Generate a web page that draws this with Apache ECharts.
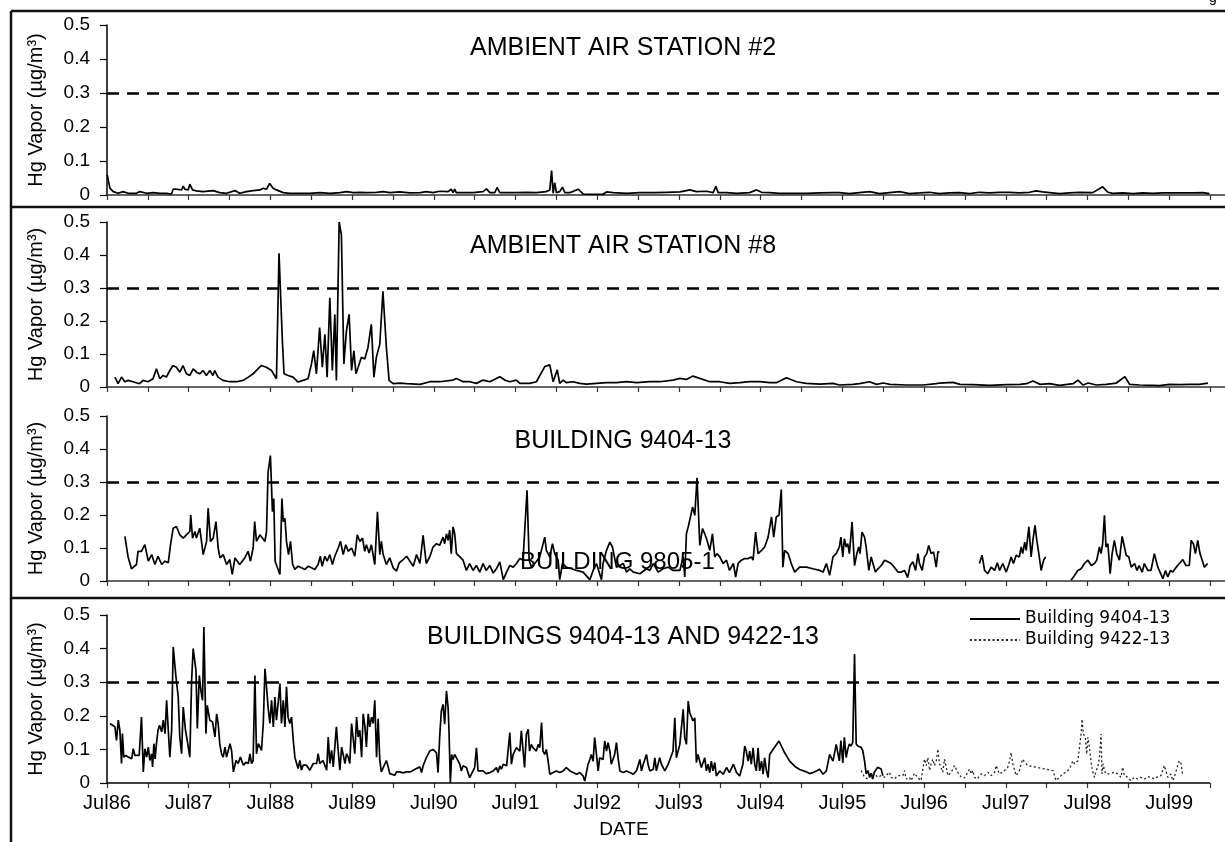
<!DOCTYPE html>
<html>
<head>
<meta charset="utf-8">
<title>Hg Vapor</title>
<script src="https://cdn.jsdelivr.net/npm/echarts@6/dist/echarts.min.js"></script>
<style>
  html, body { margin: 0; padding: 0; background: #fff; }
  #chart { width: 1225px; height: 842px; }
</style>
</head>
<body>
<div id="chart"></div>
<script>
// ---- Data: [sample date, Hg vapor in µg/m³] ----
const station2 = [
  ['1986-07-02',0.059],['1986-07-14',0.02],['1986-07-29',0.01],['1986-08-20',0.005],['1986-09-12',0.01],['1986-10-04',0.005],
  ['1986-11-11',0.005],['1986-11-26',0.01],['1986-12-26',0.005],['1987-01-25',0.007],['1987-02-24',0.005],['1987-03-24',0.005],
  ['1987-04-15',0.003],['1987-04-23',0.017],['1987-05-07',0.017],['1987-05-30',0.015],['1987-06-07',0.026],['1987-06-14',0.017],
  ['1987-06-29',0.015],['1987-07-06',0.032],['1987-07-18',0.015],['1987-08-05',0.012],['1987-09-04',0.01],['1987-10-19',0.013],
  ['1987-11-18',0.007],['1987-12-18',0.005],['1988-01-25',0.013],['1988-02-16',0.005],['1988-03-16',0.01],['1988-04-15',0.013],
  ['1988-05-15',0.015],['1988-05-29',0.02],['1988-06-14',0.017],['1988-06-28',0.034],['1988-07-13',0.02],['1988-07-28',0.015],
  ['1988-08-28',0.007],['1988-09-27',0.005],['1988-11-11',0.005],['1988-12-25',0.005],['1989-02-09',0.007],['1989-03-23',0.005],
  ['1989-05-07',0.007],['1989-06-07',0.01],['1989-07-06',0.007],['1989-08-05',0.008],['1989-09-04',0.007],['1989-10-19',0.008],
  ['1989-11-18',0.01],['1989-12-17',0.007],['1990-02-01',0.009],['1990-03-16',0.006],['1990-05-01',0.007],['1990-05-28',0.01],
  ['1990-06-28',0.007],['1990-07-27',0.011],['1990-09-04',0.01],['1990-09-18',0.017],['1990-09-26',0.007],['1990-10-03',0.017],
  ['1990-10-10',0.007],['1990-11-10',0.007],['1990-12-24',0.007],['1991-02-08',0.01],['1991-02-23',0.018],['1991-03-08',0.007],
  ['1991-03-30',0.007],['1991-04-10',0.022],['1991-04-22',0.007],['1991-05-22',0.007],['1991-07-05',0.007],['1991-08-19',0.008],
  ['1991-10-03',0.007],['1991-11-17',0.01],['1991-12-02',0.015],['1991-12-10',0.072],['1991-12-17',0.005],['1991-12-24',0.036],
  ['1992-01-01',0.007],['1992-01-16',0.01],['1992-01-28',0.023],['1992-02-08',0.007],['1992-03-01',0.007],['1992-04-07',0.017],
  ['1992-04-29',0.003],['1992-06-13',0.002],['1992-07-27',0.002],['1992-08-12',0.009],['1992-09-11',0.007],['1992-11-10',0.005],
  ['1993-01-09',0.007],['1993-03-08',0.007],['1993-05-06',0.008],['1993-07-05',0.009],['1993-08-04',0.013],['1993-08-19',0.015],
  ['1993-09-18',0.01],['1993-11-02',0.011],['1993-12-02',0.007],['1993-12-14',0.026],['1993-12-24',0.007],['1994-02-01',0.007],
  ['1994-03-15',0.005],['1994-05-13',0.007],['1994-06-13',0.015],['1994-07-05',0.008],['1994-08-11',0.007],['1994-09-25',0.005],
  ['1994-11-24',0.005],['1995-01-23',0.005],['1995-03-22',0.006],['1995-05-20',0.007],['1995-06-18',0.007],['1995-08-02',0.004],
  ['1995-09-16',0.007],['1995-11-01',0.01],['1995-12-15',0.004],['1996-01-29',0.007],['1996-03-13',0.01],['1996-04-27',0.004],
  ['1996-06-11',0.006],['1996-07-25',0.008],['1996-09-09',0.004],['1996-10-23',0.006],['1996-12-07',0.007],['1997-01-22',0.004],
  ['1997-03-05',0.008],['1997-04-19',0.006],['1997-06-04',0.008],['1997-07-18',0.008],['1997-09-01',0.006],['1997-10-16',0.008],
  ['1997-11-15',0.012],['1997-12-14',0.009],['1998-01-14',0.007],['1998-02-28',0.004],['1998-04-12',0.006],['1998-05-26',0.008],
  ['1998-07-25',0.007],['1998-09-08',0.024],['1998-10-01',0.008],['1998-10-23',0.005],['1998-12-07',0.006],['1999-01-21',0.004],
  ['1999-03-05',0.006],['1999-04-19',0.005],['1999-06-03',0.006],['1999-07-17',0.006],['1999-09-01',0.006],['1999-10-16',0.006],
  ['1999-11-29',0.007],['1999-12-29',0.004]
];

const station8 = [
  ['1986-08-06',0.03],['1986-08-20',0.01],['1986-09-05',0.03],['1986-09-20',0.016],['1986-10-04',0.02],['1986-10-26',0.016],
  ['1986-11-25',0.01],['1986-12-10',0.02],['1987-01-02',0.016],['1987-01-24',0.025],['1987-02-09',0.055],['1987-02-24',0.025],
  ['1987-03-08',0.035],['1987-03-23',0.03],['1987-04-08',0.05],['1987-04-22',0.065],['1987-05-07',0.06],['1987-05-22',0.045],
  ['1987-06-06',0.065],['1987-06-21',0.04],['1987-07-06',0.035],['1987-07-21',0.055],['1987-08-05',0.045],['1987-08-20',0.04],
  ['1987-09-04',0.05],['1987-09-19',0.035],['1987-10-04',0.05],['1987-10-18',0.035],['1987-10-26',0.05],['1987-11-10',0.03],
  ['1987-12-02',0.02],['1988-01-02',0.016],['1988-02-01',0.016],['1988-03-01',0.02],['1988-03-24',0.03],['1988-04-15',0.04],
  ['1988-05-06',0.055],['1988-05-21',0.065],['1988-06-13',0.06],['1988-07-06',0.05],['1988-07-28',0.025],['1988-08-09',0.405],
  ['1988-08-24',0.14],['1988-09-01',0.04],['1988-09-19',0.035],['1988-10-11',0.03],['1988-11-03',0.015],['1988-11-25',0.02],
  ['1988-12-17',0.025],['1989-01-02',0.07],['1989-01-12',0.11],['1989-01-24',0.04],['1989-02-08',0.18],['1989-02-20',0.06],
  ['1989-03-01',0.16],['1989-03-11',0.03],['1989-03-23',0.27],['1989-04-04',0.05],['1989-04-15',0.22],['1989-04-22',0.02],
  ['1989-05-04',0.50],['1989-05-14',0.46],['1989-05-25',0.07],['1989-06-06',0.17],['1989-06-18',0.22],['1989-06-29',0.05],
  ['1989-07-09',0.11],['1989-07-18',0.04],['1989-07-28',0.06],['1989-08-12',0.09],['1989-08-27',0.085],['1989-09-11',0.12],
  ['1989-09-26',0.19],['1989-10-07',0.03],['1989-10-18',0.09],['1989-11-03',0.13],['1989-11-17',0.29],['1989-12-02',0.12],
  ['1989-12-14',0.02],['1990-01-02',0.01],['1990-02-01',0.012],['1990-03-01',0.01],['1990-05-01',0.008],['1990-06-13',0.016],
  ['1990-07-27',0.016],['1990-09-26',0.021],['1990-10-11',0.026],['1990-11-10',0.016],['1990-12-09',0.016],['1991-01-09',0.011],
  ['1991-02-08',0.021],['1991-03-08',0.016],['1991-04-22',0.031],['1991-05-14',0.021],['1991-06-06',0.016],['1991-07-05',0.021],
  ['1991-07-20',0.011],['1991-09-04',0.011],['1991-10-03',0.016],['1991-11-10',0.062],['1991-12-02',0.067],['1991-12-17',0.016],
  ['1992-01-05',0.052],['1992-01-16',0.011],['1992-02-01',0.021],['1992-02-15',0.013],['1992-03-15',0.016],['1992-04-14',0.011],
  ['1992-05-14',0.009],['1992-06-28',0.011],['1992-08-12',0.013],['1992-09-26',0.013],['1992-11-10',0.016],['1992-12-25',0.013],
  ['1993-02-23',0.016],['1993-04-07',0.016],['1993-06-05',0.021],['1993-07-05',0.026],['1993-08-04',0.023],['1993-09-03',0.033],
  ['1993-10-03',0.026],['1993-11-17',0.016],['1994-01-01',0.016],['1994-02-15',0.011],['1994-03-30',0.013],['1994-05-13',0.016],
  ['1994-06-27',0.016],['1994-08-11',0.013],['1994-09-10',0.013],['1994-10-25',0.028],['1994-12-09',0.016],['1995-01-22',0.011],
  ['1995-03-22',0.009],['1995-05-20',0.011],['1995-06-18',0.006],['1995-08-18',0.008],['1995-09-17',0.01],['1995-11-01',0.016],
  ['1995-12-01',0.008],['1996-01-01',0.012],['1996-02-01',0.008],['1996-04-13',0.006],['1996-06-27',0.006],['1996-08-25',0.01],
  ['1996-09-10',0.012],['1996-11-09',0.014],['1996-12-09',0.008],['1997-02-07',0.007],['1997-04-21',0.005],['1997-07-04',0.007],
  ['1997-09-04',0.008],['1997-10-02',0.01],['1997-11-01',0.018],['1997-12-01',0.008],['1998-01-15',0.01],['1998-02-28',0.005],
  ['1998-04-28',0.01],['1998-05-19',0.021],['1998-06-12',0.006],['1998-07-04',0.012],['1998-08-10',0.006],['1998-09-24',0.008],
  ['1998-11-08',0.012],['1998-12-16',0.031],['1999-01-07',0.008],['1999-02-21',0.006],['1999-04-19',0.005],['1999-05-19',0.004],
  ['1999-07-02',0.008],['1999-08-17',0.007],['1999-10-01',0.008],['1999-11-15',0.008],['1999-12-22',0.012]
];

// Building 9404-13, separate monitoring record (null = no samples)
const building9404a = [
  ['1986-09-20',0.135],['1986-10-04',0.073],['1986-10-19',0.037],['1986-10-26',0.04],['1986-11-11',0.05],['1986-11-18',0.09],
  ['1986-12-03',0.09],['1986-12-10',0.1],['1986-12-18',0.11],['1987-01-03',0.06],['1987-01-18',0.08],['1987-02-02',0.05],
  ['1987-02-16',0.075],['1987-03-02',0.05],['1987-03-16',0.06],['1987-04-01',0.055],['1987-04-11',0.11],['1987-04-23',0.16],
  ['1987-05-07',0.165],['1987-05-22',0.14],['1987-06-07',0.13],['1987-06-21',0.14],['1987-07-06',0.15],['1987-07-10',0.2],
  ['1987-07-18',0.13],['1987-07-29',0.15],['1987-08-05',0.13],['1987-08-20',0.16],['1987-09-05',0.08],['1987-09-20',0.12],
  ['1987-09-27',0.22],['1987-10-07',0.12],['1987-10-19',0.13],['1987-11-01',0.18],['1987-11-11',0.1],['1987-11-19',0.07],
  ['1987-12-03',0.08],['1987-12-18',0.05],['1988-01-02',0.065],['1988-01-13',0.02],['1988-01-25',0.07],['1988-02-16',0.05],
  ['1988-03-08',0.07],['1988-03-23',0.09],['1988-04-03',0.06],['1988-04-15',0.1],['1988-04-22',0.18],['1988-04-30',0.12],
  ['1988-05-15',0.14],['1988-06-07',0.12],['1988-06-14',0.15],['1988-06-21',0.33],['1988-07-01',0.38],['1988-07-10',0.21],
  ['1988-07-16',0.25],['1988-07-22',0.06],['1988-08-02',0.04],['1988-08-13',0.02],['1988-08-22',0.25],['1988-08-28',0.18],
  ['1988-09-05',0.19],['1988-09-12',0.12],['1988-09-21',0.08],['1988-09-30',0.12],['1988-10-09',0.05],['1988-10-19',0.035],
  ['1988-11-03',0.045],['1988-11-18',0.04],['1988-12-03',0.035],['1988-12-18',0.045],['1989-01-02',0.04],['1989-01-17',0.035],
  ['1989-02-01',0.05],['1989-02-11',0.075],['1989-02-19',0.045],['1989-03-01',0.075],['1989-03-11',0.06],['1989-03-23',0.08],
  ['1989-04-04',0.05],['1989-04-15',0.075],['1989-04-30',0.1],['1989-05-10',0.12],['1989-05-22',0.08],['1989-06-03',0.11],
  ['1989-06-14',0.09],['1989-06-29',0.1],['1989-07-13',0.075],['1989-07-24',0.14],['1989-08-05',0.12],['1989-08-17',0.13],
  ['1989-08-27',0.09],['1989-09-04',0.11],['1989-09-16',0.085],['1989-09-26',0.11],['1989-10-11',0.05],['1989-10-23',0.21],
  ['1989-11-03',0.08],['1989-11-10',0.12],['1989-11-18',0.08],['1989-12-02',0.05],['1989-12-17',0.07],['1990-01-02',0.04],
  ['1990-01-17',0.03],['1990-01-29',0.055],['1990-02-16',0.065],['1990-03-01',0.075],['1990-03-16',0.06],['1990-03-31',0.045],
  ['1990-04-15',0.08],['1990-04-30',0.053],['1990-05-14',0.138],['1990-05-28',0.053],['1990-06-13',0.073],['1990-06-28',0.103],
  ['1990-07-13',0.113],['1990-07-27',0.108],['1990-08-12',0.133],['1990-08-19',0.113],['1990-08-27',0.143],['1990-09-04',0.123],
  ['1990-09-11',0.154],['1990-09-18',0.083],['1990-09-26',0.164],['1990-10-03',0.143],['1990-10-11',0.083],['1990-10-26',0.073],
  ['1990-11-10',0.063],['1990-11-25',0.032],['1990-12-09',0.053],['1990-12-24',0.032],['1991-01-09',0.047],['1991-01-24',0.027],
  ['1991-02-08',0.053],['1991-02-22',0.032],['1991-03-08',0.047],['1991-03-23',0.024],['1991-04-07',0.037],['1991-04-22',0.058],
  ['1991-05-07',0.004],['1991-05-22',0.027],['1991-06-06',0.047],['1991-06-21',0.042],['1991-07-05',0.053],['1991-07-20',0.068],
  ['1991-08-04',0.063],['1991-08-22',0.275],['1991-09-01',0.063],['1991-09-11',0.042],['1991-09-26',0.053],['1991-10-18',0.073],
  ['1991-11-10',0.133],['1991-11-17',0.093],['1991-12-02',0.073],['1991-12-14',0.113],['1991-12-24',0.083],['1992-01-09',0.063],
  ['1992-01-16',0.004],['1992-01-28',0.053],['1992-02-15',0.042],['1992-03-08',0.037],['1992-03-31',0.032],['1992-04-29',0.027],
  ['1992-05-29',0.004],['1992-06-13',0.032],['1992-06-28',0.053],['1992-07-20',0.004],['1992-07-27',0.053],['1992-08-12',0.093],
  ['1992-08-27',0.118],['1992-09-08',0.103],['1992-09-26',0.042],['1992-10-11',0.047],['1992-10-26',0.053],['1992-11-10',0.027],
  ['1992-11-25',0.037],['1992-12-10',0.027],['1993-01-09',0.022],['1993-02-08',0.037],['1993-02-23',0.032],['1993-03-08',0.053],
  ['1993-03-30',0.027],['1993-04-21',0.037],['1993-05-14',0.042],['1993-06-05',0.032],['1993-07-05',0.032],['1993-07-20',0.073],
  ['1993-07-27',0.012],['1993-08-04',0.143],['1993-08-12',0.164],['1993-08-22',0.194],['1993-09-01',0.224],['1993-09-11',0.199],
  ['1993-09-21',0.313],['1993-10-03',0.108],['1993-10-15',0.159],['1993-10-25',0.143],['1993-11-05',0.123],['1993-11-17',0.093],
  ['1993-11-29',0.143],['1993-12-09',0.073],['1993-12-19',0.083],['1994-01-01',0.073],['1994-01-16',0.053],['1994-01-31',0.063],
  ['1994-02-14',0.032],['1994-03-01',0.053],['1994-03-11',0.012],['1994-03-22',0.053],['1994-04-06',0.063],['1994-04-21',0.068],
  ['1994-05-06',0.068],['1994-05-20',0.073],['1994-05-28',0.063],['1994-06-09',0.148],['1994-06-20',0.083],['1994-07-05',0.093],
  ['1994-07-19',0.103],['1994-08-04',0.133],['1994-08-19',0.194],['1994-08-29',0.133],['1994-09-10',0.194],['1994-09-22',0.199],
  ['1994-10-02',0.277],['1994-10-09',0.042],['1994-10-17',0.093],['1994-11-02',0.083],['1994-11-16',0.053],['1994-12-01',0.027],
  ['1994-12-23',0.042],['1995-01-23',0.042],['1995-02-21',0.037],['1995-03-21',0.032],['1995-04-06',0.027],['1995-04-21',0.053],
  ['1995-05-05',0.017],['1995-05-20',0.073],['1995-06-04',0.083],['1995-06-18',0.103],['1995-06-25',0.133],['1995-07-03',0.073],
  ['1995-07-10',0.128],['1995-07-18',0.103],['1995-07-25',0.113],['1995-08-02',0.083],['1995-08-14',0.179],['1995-08-25',0.047],
  ['1995-09-05',0.083],['1995-09-13',0.103],['1995-09-19',0.083],['1995-09-28',0.148],['1995-10-09',0.133],['1995-10-16',0.103],
  ['1995-10-28',0.032],['1995-11-08',0.073],['1995-11-15',0.078],['1995-11-27',0.027],['1995-12-08',0.037],['1995-12-23',0.047],
  ['1996-01-07',0.063],['1996-01-22',0.058],['1996-02-06',0.053],['1996-02-20',0.042],['1996-03-06',0.027],['1996-03-21',0.027],
  ['1996-04-05',0.032],['1996-04-19',0.01],['1996-04-30',0.047],['1996-05-12',0.058],['1996-05-24',0.032],['1996-06-04',0.083],
  ['1996-06-11',0.053],['1996-06-23',0.032],['1996-07-03',0.073],['1996-07-13',0.083],['1996-07-22',0.108],['1996-08-02',0.083],
  ['1996-08-13',0.088],['1996-08-25',0.042],['1996-09-02',0.088],['1996-09-09',0.088],['1996-11-01',null],
  ['1997-03-05',0.053],['1997-03-17',0.078],['1997-03-28',0.032],['1997-04-12',0.022],['1997-04-27',0.042],['1997-05-12',0.032],
  ['1997-05-24',0.055],['1997-06-04',0.032],['1997-06-18',0.053],['1997-07-03',0.027],['1997-07-15',0.05],['1997-07-25',0.073],
  ['1997-08-05',0.053],['1997-08-17',0.078],['1997-09-01',0.073],['1997-09-09',0.103],['1997-09-16',0.083],['1997-09-25',0.118],
  ['1997-10-01',0.093],['1997-10-13',0.164],['1997-10-23',0.073],['1997-10-31',0.123],['1997-11-10',0.169],['1997-11-18',0.123],
  ['1997-11-27',0.083],['1997-12-07',0.032],['1997-12-18',0.063],['1997-12-27',0.073],['1998-02-15',null],
  ['1998-04-19',0.002],['1998-05-04',0.017],['1998-05-19',0.032],['1998-06-03',0.037],['1998-06-18',0.053],['1998-07-03',0.063],
  ['1998-07-18',0.047],['1998-08-02',0.053],['1998-08-12',0.063],['1998-08-24',0.103],['1998-09-01',0.083],['1998-09-08',0.113],
  ['1998-09-16',0.199],['1998-09-23',0.103],['1998-10-01',0.113],['1998-10-11',0.022],['1998-10-20',0.083],['1998-10-30',0.123],
  ['1998-11-10',0.083],['1998-11-22',0.063],['1998-12-04',0.135],['1998-12-14',0.103],['1998-12-22',0.078],['1999-01-03',0.073],
  ['1999-01-14',0.042],['1999-01-29',0.053],['1999-02-09',0.032],['1999-02-19',0.047],['1999-03-02',0.027],['1999-03-12',0.053],
  ['1999-03-27',0.032],['1999-04-11',0.032],['1999-04-26',0.083],['1999-05-11',0.042],['1999-05-21',0.027],['1999-06-03',0.007],
  ['1999-06-15',0.032],['1999-06-25',0.012],['1999-07-07',0.032],['1999-07-17',0.027],['1999-08-02',0.042],['1999-08-16',0.053],
  ['1999-09-01',0.065],['1999-09-15',0.047],['1999-09-30',0.047],['1999-10-08',0.123],['1999-10-18',0.113],['1999-10-27',0.083],
  ['1999-11-07',0.123],['1999-11-17',0.083],['1999-11-29',0.058],['1999-12-06',0.042],['1999-12-14',0.047],['1999-12-21',0.053]
];

// Building 9404-13 and Building 9422-13, combined record
const building9404 = [
  ['1986-07-14',0.177],['1986-07-26',0.172],['1986-08-06',0.167],['1986-08-13',0.127],['1986-08-21',0.187],['1986-08-28',0.157],
  ['1986-09-05',0.058],['1986-09-09',0.147],['1986-09-15',0.077],['1986-09-24',0.082],['1986-10-05',0.077],['1986-10-20',0.072],
  ['1986-10-27',0.102],['1986-11-04',0.082],['1986-11-11',0.077],['1986-11-23',0.082],['1986-12-03',0.196],['1986-12-11',0.033],
  ['1986-12-18',0.102],['1986-12-26',0.077],['1987-01-03',0.107],['1987-01-10',0.067],['1987-01-18',0.087],['1987-01-22',0.048],
  ['1987-01-28',0.117],['1987-02-03',0.072],['1987-02-09',0.117],['1987-02-16',0.157],['1987-02-23',0.172],['1987-03-02',0.152],
  ['1987-03-09',0.187],['1987-03-17',0.147],['1987-03-24',0.246],['1987-04-01',0.157],['1987-04-08',0.077],['1987-04-16',0.157],
  ['1987-04-23',0.405],['1987-05-05',0.315],['1987-05-15',0.256],['1987-05-22',0.137],['1987-05-30',0.087],['1987-06-07',0.226],
  ['1987-06-17',0.157],['1987-06-26',0.122],['1987-07-06',0.077],['1987-07-14',0.306],['1987-07-21',0.4],['1987-08-03',0.335],
  ['1987-08-09',0.162],['1987-08-18',0.32],['1987-08-25',0.276],['1987-09-02',0.246],['1987-09-08',0.464],['1987-09-17',0.147],
  ['1987-09-23',0.231],['1987-10-04',0.187],['1987-10-16',0.182],['1987-10-27',0.137],['1987-11-04',0.206],['1987-11-11',0.177],
  ['1987-11-18',0.117],['1987-11-26',0.087],['1987-12-03',0.077],['1987-12-11',0.107],['1987-12-18',0.077],['1987-12-26',0.082],
  ['1988-01-03',0.117],['1988-01-10',0.097],['1988-01-18',0.033],['1988-01-30',0.067],['1988-02-09',0.058],['1988-02-19',0.077],
  ['1988-03-02',0.053],['1988-03-14',0.062],['1988-03-24',0.058],['1988-04-01',0.087],['1988-04-08',0.058],['1988-04-15',0.067],
  ['1988-04-23',0.32],['1988-04-30',0.087],['1988-05-08',0.117],['1988-05-15',0.122],['1988-05-22',0.097],['1988-05-30',0.177],
  ['1988-06-07',0.34],['1988-06-14',0.286],['1988-06-21',0.226],['1988-06-29',0.177],['1988-07-06',0.246],['1988-07-14',0.167],
  ['1988-07-21',0.256],['1988-07-28',0.187],['1988-08-05',0.236],['1988-08-13',0.296],['1988-08-20',0.177],['1988-08-28',0.246],
  ['1988-09-05',0.167],['1988-09-12',0.286],['1988-09-19',0.196],['1988-09-27',0.177],['1988-10-04',0.196],['1988-10-12',0.127],
  ['1988-10-19',0.077],['1988-10-27',0.058],['1988-11-03',0.043],['1988-11-11',0.067],['1988-11-18',0.038],['1988-11-25',0.053],
  ['1988-12-10',0.053],['1988-12-25',0.038],['1989-01-10',0.058],['1989-01-25',0.058],['1989-02-01',0.087],['1989-02-09',0.058],
  ['1989-02-16',0.058],['1989-02-23',0.067],['1989-03-01',0.072],['1989-03-09',0.038],['1989-03-16',0.137],['1989-03-23',0.058],
  ['1989-03-31',0.097],['1989-04-08',0.048],['1989-04-22',0.167],['1989-04-30',0.097],['1989-05-07',0.038],['1989-05-15',0.107],
  ['1989-05-22',0.102],['1989-05-30',0.058],['1989-06-06',0.087],['1989-06-14',0.077],['1989-06-21',0.058],['1989-06-29',0.177],
  ['1989-07-06',0.177],['1989-07-13',0.087],['1989-07-21',0.196],['1989-07-28',0.137],['1989-08-05',0.157],['1989-08-13',0.077],
  ['1989-08-20',0.206],['1989-08-28',0.167],['1989-09-04',0.107],['1989-09-12',0.206],['1989-09-19',0.167],['1989-09-27',0.196],
  ['1989-10-04',0.177],['1989-10-11',0.246],['1989-10-19',0.077],['1989-10-26',0.191],['1989-11-03',0.067],['1989-11-10',0.033],
  ['1989-11-18',0.038],['1989-12-02',0.067],['1989-12-10',0.048],['1989-12-17',0.028],['1989-12-25',0.033],['1990-01-09',0.023],
  ['1990-01-17',0.033],['1990-01-24',0.028],['1990-02-01',0.033],['1990-02-16',0.03],['1990-03-01',0.033],['1990-03-16',0.033],
  ['1990-03-31',0.038],['1990-04-15',0.043],['1990-04-30',0.048],['1990-05-07',0.031],['1990-05-14',0.051],['1990-05-28',0.075],
  ['1990-06-13',0.095],['1990-06-28',0.1],['1990-07-13',0.09],['1990-07-20',0.031],['1990-07-27',0.135],['1990-08-04',0.214],
  ['1990-08-12',0.234],['1990-08-19',0.175],['1990-08-27',0.274],['1990-09-04',0.224],['1990-09-08',0.155],['1990-09-14',0],
  ['1990-09-20',0.085],['1990-09-26',0.07],['1990-10-03',0.085],['1990-10-11',0.075],['1990-10-18',0.08],['1990-10-26',0.056],
  ['1990-11-02',0.036],['1990-11-10',0.051],['1990-11-25',0.046],['1990-12-09',0.016],['1990-12-24',0.036],['1991-01-01',0.046],
  ['1991-01-09',0.105],['1991-01-16',0.036],['1991-01-24',0.041],['1991-02-08',0.036],['1991-02-22',0.028],['1991-03-08',0.031],
  ['1991-03-23',0.036],['1991-04-07',0.046],['1991-04-14',0.031],['1991-04-22',0.051],['1991-04-29',0.041],['1991-05-07',0.056],
  ['1991-05-22',0.051],['1991-06-06',0.15],['1991-06-13',0.056],['1991-06-21',0.085],['1991-07-05',0.105],['1991-07-20',0.095],
  ['1991-07-27',0.155],['1991-08-04',0.16],['1991-08-11',0.046],['1991-08-19',0.145],['1991-08-27',0.16],['1991-09-03',0.095],
  ['1991-09-11',0.115],['1991-09-18',0.105],['1991-09-26',0.1],['1991-10-03',0.095],['1991-10-11',0.115],['1991-10-18',0.105],
  ['1991-10-26',0.18],['1991-11-02',0.095],['1991-11-10',0.085],['1991-11-17',0.1],['1991-11-25',0.065],['1991-12-02',0.026],
  ['1991-12-09',0.031],['1991-12-17',0.031],['1992-01-01',0.036],['1992-01-16',0.031],['1992-02-01',0.036],['1992-02-15',0.046],
  ['1992-03-01',0.036],['1992-03-15',0.031],['1992-03-31',0.026],['1992-04-14',0.031],['1992-04-29',0.021],['1992-05-06',0.006],
  ['1992-05-13',0.001],['1992-05-21',0.056],['1992-05-29',0.07],['1992-06-05',0.085],['1992-06-13',0.065],['1992-06-20',0.135],
  ['1992-06-28',0.085],['1992-07-05',0.036],['1992-07-12',0.075],['1992-07-27',0.07],['1992-08-04',0.125],['1992-08-12',0.095],
  ['1992-08-19',0.12],['1992-08-27',0.095],['1992-09-03',0.056],['1992-09-18',0.085],['1992-09-26',0.12],['1992-10-03',0.075],
  ['1992-10-11',0.036],['1992-10-26',0.031],['1992-11-10',0.036],['1992-11-25',0.031],['1992-12-10',0.026],['1992-12-24',0.036],
  ['1993-01-09',0.07],['1993-01-16',0.036],['1993-01-24',0.056],['1993-02-08',0.085],['1993-02-15',0.056],['1993-02-23',0.036],
  ['1993-03-08',0.041],['1993-03-15',0.075],['1993-03-22',0.036],['1993-04-06',0.075],['1993-04-14',0.056],['1993-04-29',0.036],
  ['1993-05-14',0.056],['1993-06-05',0.095],['1993-06-13',0.194],['1993-06-20',0.075],['1993-07-05',0.115],['1993-07-20',0.219],
  ['1993-07-27',0.135],['1993-08-04',0.115],['1993-08-12',0.244],['1993-08-19',0.209],['1993-08-26',0.214],['1993-09-03',0.185],
  ['1993-09-11',0.194],['1993-09-18',0.061],['1993-09-25',0.085],['1993-10-10',0.046],['1993-10-25',0.075],['1993-11-02',0.036],
  ['1993-11-09',0.056],['1993-11-17',0.031],['1993-11-24',0.065],['1993-12-01',0.036],['1993-12-09',0.061],['1993-12-16',0.021],
  ['1994-01-01',0.036],['1994-01-16',0.026],['1994-01-31',0.046],['1994-02-14',0.031],['1994-03-01',0.056],['1994-03-15',0.031],
  ['1994-03-29',0.021],['1994-04-13',0.056],['1994-04-21',0.11],['1994-04-28',0.095],['1994-05-06',0.065],['1994-05-13',0.095],
  ['1994-05-20',0.056],['1994-05-28',0.105],['1994-06-05',0.056],['1994-06-12',0.036],['1994-06-20',0.105],['1994-06-27',0.036],
  ['1994-07-05',0.065],['1994-07-12',0.026],['1994-07-19',0.075],['1994-07-27',0.036],['1994-08-04',0.016],['1994-08-11',0.085],
  ['1994-09-01',0.105],['1994-09-22',0.125],['1994-10-17',0.09],['1994-11-09',0.065],['1994-12-01',0.05],['1994-12-23',0.04],
  ['1995-01-23',0.033],['1995-02-07',0.028],['1995-02-21',0.031],['1995-03-07',0.036],['1995-03-21',0.041],['1995-04-06',0.026],
  ['1995-04-21',0.036],['1995-05-05',0.085],['1995-05-20',0.065],['1995-06-04',0.115],['1995-06-18',0.066],['1995-06-25',0.126],
  ['1995-07-03',0.06],['1995-07-10',0.136],['1995-07-18',0.076],['1995-07-25',0.1],['1995-08-02',0.116],['1995-08-09',0.11],
  ['1995-08-17',0.12],['1995-08-25',0.384],['1995-09-02',0.116],['1995-09-09',0.11],['1995-09-16',0.11],['1995-09-24',0.106],
  ['1995-10-01',0.096],['1995-10-09',0.066],['1995-10-16',0.027],['1995-10-24',0.037],['1995-11-01',0.017],['1995-11-08',0.029],
  ['1995-11-15',0.012],['1995-11-22',0.032],['1995-11-30',0.029],['1995-12-07',0.047],['1995-12-15',0.05],['1995-12-22',0.042],
  ['1995-12-30',0.022]
];

const building9422 = [
  ['1995-09-24',0.037],['1995-10-09',0.017],['1995-10-24',0.012],['1995-11-08',0.022],['1995-11-22',0.029],['1995-12-07',0.017],
  ['1995-12-22',0.022],['1996-01-07',0.017],['1996-01-14',0.012],['1996-01-29',0.032],['1996-02-06',0.017],['1996-02-20',0.012],
  ['1996-03-06',0.022],['1996-03-13',0.027],['1996-03-28',0.022],['1996-04-05',0.037],['1996-04-12',0.012],['1996-04-27',0.017],
  ['1996-05-04',0.007],['1996-05-19',0.029],['1996-06-04',0.015],['1996-06-18',0.007],['1996-06-26',0.042],['1996-07-03',0.071],
  ['1996-07-11',0.052],['1996-07-18',0.076],['1996-07-26',0.037],['1996-08-02',0.057],['1996-08-10',0.071],['1996-08-17',0.052],
  ['1996-08-25',0.066],['1996-09-02',0.101],['1996-09-09',0.057],['1996-09-16',0.062],['1996-09-24',0.032],['1996-10-01',0.071],
  ['1996-10-09',0.047],['1996-10-16',0.022],['1996-11-01',0.032],['1996-11-15',0.052],['1996-11-30',0.032],['1996-12-15',0.017],
  ['1996-12-30',0.015],['1997-01-14',0.032],['1997-01-22',0.042],['1997-01-29',0.027],['1997-02-06',0.037],['1997-02-13',0.017],
  ['1997-02-26',0.012],['1997-03-13',0.027],['1997-03-28',0.022],['1997-04-12',0.032],['1997-04-27',0.022],['1997-05-12',0.032],
  ['1997-05-19',0.052],['1997-06-03',0.027],['1997-06-18',0.032],['1997-07-10',0.047],['1997-07-18',0.066],['1997-07-25',0.091],
  ['1997-08-02',0.057],['1997-08-17',0.022],['1997-09-01',0.037],['1997-09-09',0.057],['1997-09-16',0.071],['1997-09-24',0.062],
  ['1997-10-08',0.052],['1998-01-29',0.037],['1998-02-13',0.007],['1998-02-28',0.017],['1998-03-12',0.027],['1998-03-27',0.032],
  ['1998-04-12',0.042],['1998-04-27',0.066],['1998-05-04',0.057],['1998-05-11',0.052],['1998-05-19',0.066],['1998-05-26',0.106],
  ['1998-06-03',0.146],['1998-06-07',0.19],['1998-06-13',0.146],['1998-06-22',0.136],['1998-06-28',0.086],['1998-07-03',0.136],
  ['1998-07-10',0.106],['1998-07-18',0.057],['1998-07-25',0.032],['1998-08-02',0.017],['1998-08-09',0.037],['1998-08-17',0.047],
  ['1998-08-24',0.076],['1998-09-01',0.146],['1998-09-05',0.027],['1998-09-11',0.057],['1998-09-16',0.037],['1998-09-23',0.027],
  ['1998-10-08',0.027],['1998-10-15',0.022],['1998-10-30',0.032],['1998-11-14',0.027],['1998-11-29',0.017],['1998-12-06',0.047],
  ['1998-12-14',0.022],['1998-12-29',0.017],['1999-01-13',0.007],['1999-01-28',0.017],['1999-02-12',0.012],['1999-02-26',0.017],
  ['1999-03-12',0.012],['1999-03-27',0.019],['1999-04-11',0.017],['1999-04-26',0.012],['1999-05-11',0.019],['1999-05-25',0.022],
  ['1999-06-10',0.052],['1999-06-25',0.017],['1999-07-09',0.027],['1999-07-17',0.007],['1999-07-24',0.017],['1999-08-02',0.037],
  ['1999-08-09',0.052],['1999-08-16',0.066],['1999-08-24',0.057],['1999-09-01',0.022]
];

const panelTitles = ['AMBIENT AIR STATION #2', 'AMBIENT AIR STATION #8', 'BUILDING 9404-13', 'BUILDINGS 9404-13 AND 9422-13'];
const seriesNames = ['Building 9404-13', 'Building 9422-13'];
const yTicks = [0, 0.1, 0.2, 0.3, 0.4, 0.5];
const yearLabels = ['Jul86','Jul87','Jul88','Jul89','Jul90','Jul91','Jul92','Jul93','Jul94','Jul95','Jul96','Jul97','Jul98','Jul99'];
const guideline = 0.3;

// ---- Helpers & layout ----
// x is measured in months since January 1986
function toMonth(s) {
  const [y, m, d] = s.split('-').map(Number);
  return (y - 1986) * 12 + (m - 1) + (d - 1) / 30.4;
}
function pts(arr) { return arr.map(([d, v]) => [toMonth(d), v === null ? '-' : v]); }

const X_MIN = 6;          // Jul 1986
const X_END = 168;        // Jan 2000, end of the dated axis
const X_MAX = 170.2;      // right edge of the plotting area
const tickVals = []; for (let v = X_MIN; v <= X_END; v += 6) tickVals.push(v);
const labelVals = yearLabels.map((_, i) => X_MIN + i * 12);

const FONT = '"Liberation Sans", Arial, Helvetica, sans-serif';
const panels = [
  { top: 25,  height: 170 },
  { top: 222, height: 165 },
  { top: 416, height: 165 },
  { top: 615, height: 168 }
];

const grids = panels.map(p => ({ left: 107, width: 1118, top: p.top, height: p.height }));

const xAxes = panels.map((p, i) => ({
  type: 'value', gridIndex: i, min: X_MIN, max: X_MAX, interval: 6,
  axisLine: { show: i < 3, lineStyle: { color: '#333', width: 1.5 } },
  axisTick: { show: true, length: 5, customValues: tickVals, lineStyle: { color: '#333', width: 1.2 } },
  axisLabel: {
    show: i === 3, customValues: labelVals, margin: 10,
    fontFamily: FONT, fontSize: 20, color: '#000',
    formatter: v => {
      const k = Math.round(v - X_MIN);
      return (k % 12 === 0 && k / 12 < yearLabels.length) ? yearLabels[k / 12] : '';
    }
  },
  splitLine: { show: false }
}));

const yAxes = panels.map((p, i) => ({
  type: 'value', gridIndex: i, min: 0, max: 0.5, interval: 0.1,
  name: 'Hg Vapor (µg/m³)', nameLocation: 'middle', nameGap: 61,
  nameTextStyle: { fontFamily: FONT, fontSize: 20, color: '#000' },
  axisLine: { show: true, lineStyle: { color: '#000', width: 1.5 } },
  axisTick: { show: true, length: 7, lineStyle: { color: '#000', width: 1.2 } },
  axisLabel: {
    margin: 17, fontFamily: FONT, fontSize: 19, color: '#000',
    formatter: v => (yTicks.includes(Math.round(v * 10) / 10) ? (v === 0 ? '0' : v.toFixed(1)) : '')
  },
  splitLine: { show: false }
}));

const dashStyle = { color: '#000', width: 2.5, type: [12, 8] };
function guide(extra) {
  return {
    silent: true, symbol: ['none', 'none'], animation: false,
    label: { show: false },
    data: [{ yAxis: guideline, lineStyle: dashStyle }].concat(extra || [])
  };
}
const solidLine = { color: '#000', width: 1.7 };

const series = [
  { type: 'line', xAxisIndex: 0, yAxisIndex: 0, data: pts(station2), showSymbol: false, symbol: 'none',
    lineStyle: solidLine, markLine: guide() },
  { type: 'line', xAxisIndex: 1, yAxisIndex: 1, data: pts(station8), showSymbol: false, symbol: 'none',
    lineStyle: solidLine, markLine: guide() },
  { type: 'line', xAxisIndex: 2, yAxisIndex: 2, data: pts(building9404a), showSymbol: false, symbol: 'none',
    connectNulls: false, lineStyle: solidLine, markLine: guide() },
  { name: seriesNames[0], type: 'line', xAxisIndex: 3, yAxisIndex: 3, data: pts(building9404), showSymbol: false, symbol: 'none',
    lineStyle: solidLine, itemStyle: { color: '#000' },
    markLine: guide([[
      { coord: [X_MIN, 0], lineStyle: { color: '#000', width: 1.5, type: 'solid' } },
      { coord: [X_END, 0] }
    ]]) },
  { name: seriesNames[1], type: 'line', xAxisIndex: 3, yAxisIndex: 3, data: pts(building9422), showSymbol: false, symbol: 'none',
    lineStyle: { color: '#222', width: 1.3, type: [2, 2.5] }, itemStyle: { color: '#222' } }
];

// Panel frames, titles and captions
const frameStyle = { stroke: '#111', lineWidth: 2.5 };
const graphics = [
  { type: 'line', shape: { x1: 11, y1: 11, x2: 1225, y2: 11 }, style: frameStyle, silent: true },
  { type: 'line', shape: { x1: 11, y1: 11, x2: 11, y2: 842 }, style: frameStyle, silent: true },
  { type: 'line', shape: { x1: 11, y1: 207, x2: 1225, y2: 207 }, style: frameStyle, silent: true },
  { type: 'line', shape: { x1: 11, y1: 598, x2: 1225, y2: 598 }, style: frameStyle, silent: true },
  { type: 'text', left: 1209, top: -9, style: { text: 'g', fontFamily: FONT, fontSize: 14, fill: '#000' }, silent: true },
  { type: 'text', x: 520, y: 562, z: 0, style: { text: 'BUILDING 9805-1', fontFamily: FONT, fontSize: 24, fill: '#000',
      textAlign: 'left', textVerticalAlign: 'middle' }, silent: true },
  { type: 'text', x: 624, y: 830, style: { text: 'DATE', fontFamily: FONT, fontSize: 19, fill: '#000',
      textAlign: 'center', textVerticalAlign: 'middle' }, silent: true }
];
const titleY = [48, 246, 441, 637];
panelTitles.forEach((t, i) => {
  graphics.push({ type: 'text', x: 623, y: titleY[i], style: { text: t, fontFamily: FONT, fontSize: 25, fill: '#000',
    textAlign: 'center', textVerticalAlign: 'middle' }, silent: true });
});

const chart = echarts.init(document.getElementById('chart'), null, { renderer: 'canvas' });
chart.setOption({
  animation: false,
  backgroundColor: '#fff',
  grid: grids,
  xAxis: xAxes,
  yAxis: yAxes,
  legend: {
    data: seriesNames, orient: 'vertical', left: 964, top: 605,
    itemWidth: 50, itemHeight: 12, itemGap: 3,
    itemStyle: { opacity: 0 },
    textStyle: { fontFamily: '"DejaVu Sans", Verdana, sans-serif', fontSize: 17, lineHeight: 18, color: '#000' },
    selectedMode: false
  },
  series: series,
  graphic: graphics
});
</script>
</body>
</html>
